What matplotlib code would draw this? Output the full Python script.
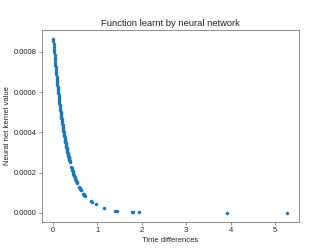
import matplotlib
matplotlib.use("Agg")
import matplotlib.pyplot as plt

plt.rcParams['font.family'] = ['Liberation Sans', 'DejaVu Sans']

time_diffs = [0.005, 0.010, 0.015, 0.020, 0.025, 0.030, 0.035, 0.040, 0.045,
              0.050, 0.055, 0.060, 0.065, 0.070, 0.075, 0.080, 0.085, 0.090, 0.095,
              0.100, 0.105, 0.110, 0.115, 0.120, 0.125, 0.130, 0.135, 0.140, 0.145,
              0.150, 0.155, 0.160, 0.165, 0.170, 0.175, 0.180, 0.185, 0.190, 0.195,
              0.200, 0.205, 0.210, 0.215, 0.220, 0.225, 0.230, 0.235, 0.240, 0.245,
              0.250, 0.255, 0.260, 0.265, 0.270, 0.275, 0.280, 0.285, 0.290, 0.295,
              0.300, 0.305, 0.310, 0.315, 0.320, 0.325, 0.330, 0.335, 0.340, 0.345,
              0.350, 0.355, 0.360, 0.365, 0.370, 0.375, 0.380,
              0.41, 0.42, 0.43, 0.44, 0.45, 0.46, 0.47, 0.48, 0.49, 0.50,
              0.51, 0.52, 0.53, 0.54,
              0.59, 0.60, 0.61, 0.62, 0.63,
              0.68, 0.69, 0.70, 0.71,
              0.85, 0.87, 0.97, 1.14, 1.39, 1.43, 1.77, 1.80, 1.94,
              3.92, 5.27]

kernel_values_e6 = [865.7, 851.6, 837.8, 824.1, 810.7, 797.5, 784.5, 771.7, 759.2,
                    746.8, 734.7, 722.7, 710.9, 699.3, 688.0, 676.7, 665.7, 654.9, 644.3,
                    633.7, 623.4, 613.3, 603.3, 593.5, 583.9, 574.3, 565.0, 555.8, 546.8,
                    537.8, 529.1, 520.4, 512.0, 503.6, 495.4, 487.4, 479.4, 471.6, 464.0,
                    456.4, 449.0, 441.7, 434.5, 427.4, 420.5, 413.6, 406.9, 400.2, 393.7,
                    387.3, 381.0, 374.8, 368.7, 362.7, 356.8, 351.0, 345.3, 339.6, 334.1,
                    328.7, 323.3, 318.0, 312.9, 307.8, 302.8, 297.8, 293.0, 288.2, 283.5,
                    278.9, 274.4, 269.9, 265.5, 261.2, 257.0, 252.7,
                    229.0, 221.6, 214.5, 207.5, 200.8, 194.3, 188.1, 182.0, 176.1, 170.4,
                    164.9, 159.6, 154.4, 149.5,
                    127.5, 123.4, 119.4, 115.6, 111.8,
                    95.3, 92.3, 89.3, 86.4,
                    58.0, 54.0, 42.0, 26.0, 11.5, 10.5, 5.0, 4.8, 4.0,
                    0.2, 0.05]

kernel_values = [v * 1e-6 for v in kernel_values_e6]

fig = plt.figure(figsize=(6.4, 4.8), dpi=332 / 6.4)
ax = fig.add_subplot(111)
ax.scatter(time_diffs, kernel_values, s=24, color='#1f77b4', linewidths=0)
ax.set_title("Function learnt by neural network", fontsize=13, color='#222222')
ax.set_xlabel("Time differences", fontsize=10.5, color='#222222')
ax.set_ylabel("Neural net kernel value", fontsize=10.5, color='#222222')
ax.tick_params(labelsize=10.5, labelcolor='#222222', color='#444444')
for sp in ax.spines.values():
    sp.set_color('#444444')
fig.savefig("out.png", dpi=332 / 6.4)
